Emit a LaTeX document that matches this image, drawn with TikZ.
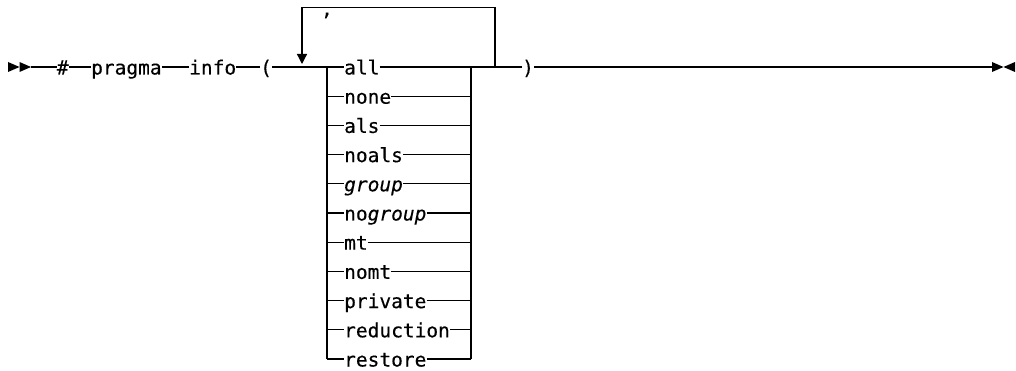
\documentclass[tikz,border=0pt]{standalone}
\usepackage{fontspec}
\newfontfamily\kwfont{DejaVu Sans Mono}[FakeBold=0.3]
\usetikzlibrary{arrows.meta}
\begin{document}
\begin{tikzpicture}[x=1pt,y=-1pt,
  rail/.style={line width=1.3pt,draw=black},
  kwf/.style={font=\kwfont\fontsize{19.5}{22}\selectfont},
  kw/.style={kwf, inner xsep=0pt, inner ysep=0pt,
     text height=15pt, text depth=0pt, anchor=west},
  tip/.style={fill=black,draw=none}]
\useasboundingbox (0,0) rectangle (1016,371);
% start and end markers
\fill[tip] (8,62) -- (19.5,67) -- (8,72) -- cycle;
\fill[tip] (19.5,62) -- (31,67) -- (19.5,72) -- cycle;
\coordinate (start) at (31,67);
\fill[tip] (992,62) -- (1003.5,67) -- (992,72) -- cycle;
\fill[tip] (1015,62) -- (1003.5,67) -- (1015,72) -- cycle;
\coordinate (stop) at (992,67);
% main keywords
\node[kw] (hash) at (56.6,67) {\#};
\node[kw] (pragma) at (91,67) {pragma};
\node[kw] (info) at (189,67) {info};
\node[kw] (lp) at (260,67) {(};
\node[kw] (rp) at (522,67) {)};
% choice list
\foreach \i/\t in {0/all,1/none,2/als,3/noals,4/{\itshape group},5/{no\itshape group},6/mt,7/nomt,8/private,9/reduction,10/restore}{
  \coordinate (L\i) at (327,67+29.2*\i);
  \coordinate (R\i) at (471,67+29.2*\i);
  \node[kw] (c\i) at (344,67+29.2*\i) {\t};
  \draw[rail] (L\i) -- (c\i.west);
  \draw[rail] (c\i.east) -- (R\i);
}
\draw[rail] (L0) -- (L10);
\draw[rail] (R0) -- (R10);
% main line
\coordinate (J) at (495,67);
\draw[rail] (start) -- (hash.west);
\draw[rail] (hash.east) -- (pragma.west);
\draw[rail] (pragma.east) -- (info.west);
\draw[rail] (info.east) -- (lp.west);
\draw[rail] (lp.east) -- (L0);
\draw[rail] (R0) -- (J) -- (rp.west);
\draw[rail] (rp.east) -- (stop);
% repeat loop
\coordinate (LT) at (302,7.5);
\coordinate (LA) at (302,64);
\draw[rail,-{Triangle[length=10pt,width=10pt]}] (J) |- (LT) -- (LA);
\node[kwf, inner sep=0pt, anchor=base] (comma) at (327,15.5) {,};
\end{tikzpicture}
\end{document}
